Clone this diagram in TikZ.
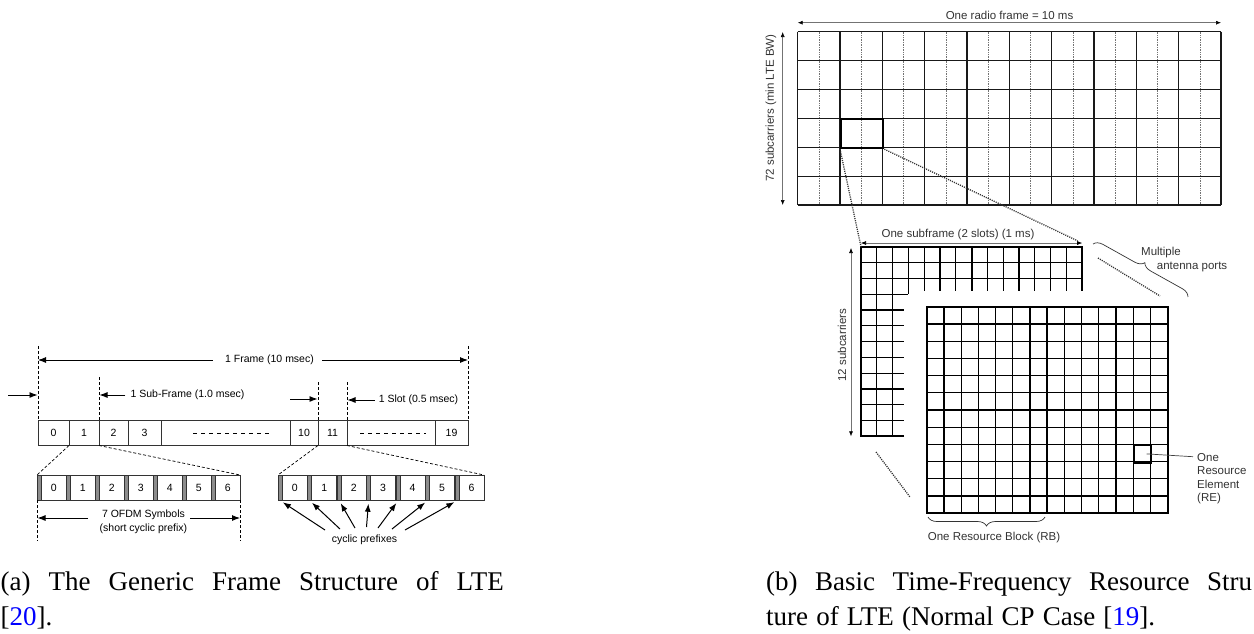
\documentclass[tikz,border=0pt]{standalone}
\usepackage{fontspec}
\setmainfont{Liberation Serif}
\setsansfont{Liberation Sans}
\usetikzlibrary{arrows.meta,decorations.pathreplacing,calc}
\begin{document}
\begin{tikzpicture}[x=1pt,y=-1pt,
  lbl/.style={font=\fontsize{10.5}{14}\selectfont\sffamily,inner sep=0pt},
  rlbl/.style={font=\fontsize{11.5}{13.5}\selectfont\sffamily,inner sep=0pt,text=black!80},
  captxt/.style={font=\fontsize{27}{32}\selectfont\rmfamily,inner sep=0pt,anchor=base west},
  vdash/.style={black,line width=0.7pt,dash pattern=on 3pt off 2pt},
  larr/.style={line width=0.9pt,-{Latex[length=8pt,width=6pt]}},
  sym/.style={draw=black!80,line width=0.7pt},
  cpbox/.style={draw=black!80,fill=black!45,line width=0.7pt,minimum width=4pt,minimum height=25pt,inner sep=0pt,anchor=north west},
  symbox/.style={draw=black!80,line width=0.7pt,minimum width=25pt,minimum height=25pt,inner sep=0pt,anchor=north west,font=\fontsize{10.5}{12}\selectfont\sffamily},
  gl/.style={line width=1.2pt,black!90},
  gd/.style={line width=0.7pt,black!55,densely dotted},
  tl/.style={line width=1.2pt,black},
  bl/.style={line width=2pt,black},
  rarr/.style={line width=0.6pt,black!55,{Latex[length=5pt,width=4pt,black]}-{Latex[length=5pt,width=4pt,black]}},
  dots/.style={line width=1.3pt,black!80,dash pattern=on 1.1pt off 1.1pt},
  brc/.style={decorate,decoration={brace,amplitude=9pt},line width=0.7pt,black!80}
]
\useasboundingbox (0,0) rectangle (1254,633);

%%%%%%%%%%%%%%%% LEFT: generic frame structure
\draw[sym] (38,420.5) rectangle (468,445.5);
\foreach \x in {69,99,128,161,290,318,347,435} \draw[sym] (\x,420.5) -- (\x,445.5);
\node[lbl] (b0) at (53.5,433) {0};
\node[lbl] (b1) at (84,433) {1};
\node[lbl] (b2) at (113.5,433) {2};
\node[lbl] (b3) at (144.5,433) {3};
\node[lbl] (b10) at (304,433) {10};
\node[lbl] (b11) at (332.5,433) {11};
\node[lbl] (b19) at (451.5,433) {19};
\coordinate (d1a) at (193,433.5); \coordinate (d1b) at (272,433.5);
\coordinate (d2a) at (360,433.5); \coordinate (d2b) at (426,433.5);
\draw[line width=0.6pt,dash pattern=on 4pt off 4pt] (d1a) -- (d1b);
\draw[line width=0.6pt,dash pattern=on 4pt off 4pt] (d2a) -- (d2b);

\draw[vdash] (38,346) -- (38,420.5);
\draw[vdash] (99,377) -- (99,420.5);
\draw[vdash] (318,382) -- (318,420.5);
\draw[vdash] (347,382) -- (347,420.5);
\draw[vdash] (468,346) -- (468,420.5);

\node[lbl] (ftx) at (269.5,360) {1 Frame (10 msec)};
\coordinate (fl) at (38,360); \coordinate (fr) at (468,360);
\draw[larr] ([xshift=-12pt]ftx.west) -- (fl);
\draw[larr] ([xshift=8pt]ftx.east) -- (fr);
\coordinate (la) at (8,395); \coordinate (lb) at (37.5,395);
\draw[larr] (la) -- (lb);
\node[lbl] (sftx) at (187.5,395) {1 Sub-Frame (1.0 msec)};
\coordinate (sfl) at (99.5,395);
\draw[larr] ([xshift=-5pt]sftx.west) -- (sfl);
\coordinate (sfa) at (290,399); \coordinate (sfb) at (317.5,399);
\draw[larr] (sfa) -- (sfb);
\node[lbl] (sltx) at (418.5,400) {1 Slot (0.5 msec)};
\coordinate (sll) at (347.5,400);
\draw[larr] ([xshift=-4pt]sltx.west) -- (sll);

\coordinate (z1) at (69,445.5); \coordinate (z2) at (37,475);
\coordinate (z3) at (99,445.5); \coordinate (z4) at (240,475);
\coordinate (z5) at (318,445.5); \coordinate (z6) at (278,475);
\coordinate (z7) at (347,445.5); \coordinate (z8) at (484,475);
\draw[vdash] (z1) -- (z2);
\draw[vdash] (z3) -- (z4);
\draw[vdash] (z5) -- (z6);
\draw[vdash] (z7) -- (z8);

\foreach \k in {0,...,6} {
  \pgfmathsetmacro\xa{37+29*\k}
  \pgfmathsetmacro\xb{278+29.43*\k}
  \node[cpbox] (cpa\k) at (\xa,475) {};
  \node[symbox] (sa\k) at (\xa+4,475) {\k};
  \node[cpbox] (cpb\k) at (\xb,475) {};
  \node[symbox] (sb\k) at (\xb+4,475) {\k};
}

\draw[vdash] (37.5,500) -- (37.5,541);
\draw[vdash] (240,500) -- (240,541);
\node[lbl,align=center] (ofdm) at (143.5,522) {7 OFDM Symbols\\(short cyclic prefix)};
\coordinate (ol) at (37.5,518); \coordinate (ola) at (88,518);
\coordinate (or) at (240,518); \coordinate (ora) at (190,518);
\draw[larr] (ola) -- (ol);
\draw[larr] (ora) -- (or);

\node[lbl] (cpt) at (364.5,540) {cyclic prefixes};
\coordinate (t0) at (325,530);
\coordinate (t1) at (340,529);
\coordinate (t2) at (355,528);
\coordinate (t3) at (366.5,527);
\coordinate (t4) at (378,528);
\coordinate (t5) at (392,529);
\coordinate (t6) at (405,530);
\foreach \k in {0,...,6} \draw[line width=1pt,-{Latex[length=8pt,width=6pt]},shorten >=3pt] (t\k) -- (cpb\k.south);

%%%%%%%%%%%%%%%% RIGHT: time-frequency grid
\foreach \i in {0,...,9} \draw[gd] ({818.9+42.33*\i},31.7) -- ++(0,173.3);
\foreach \i in {0,...,10} \draw[gl] ({797.7+42.33*\i},31.7) -- ++(0,173.3);
\foreach \j in {0,...,6} \draw[gl] (797.7,{31.7+28.88*\j}) -- (1221,{31.7+28.88*\j});
\node[draw,line width=2pt,minimum width=42.33pt,minimum height=28.88pt,inner sep=0pt,anchor=north west] (hb) at (840.03,118.34) {};

\coordinate (rfL) at (797.7,22.7); \coordinate (rfR) at (1221,22.7);
\draw[rarr] (rfL) -- (rfR);
\node[rlbl] (rft) at (1009.5,15) {One radio frame = 10 ms};
\coordinate (vT) at (782.7,32); \coordinate (vB) at (782.7,205);
\draw[rarr] (vT) -- (vB);
\node[rlbl,rotate=90] (vtx) at (771,108) {72 subcarriers (min LTE BW)};

\draw[tl] (861,262.5) -- (1082.2,262.5);
\draw[tl] (861,278.3) -- (1082.2,278.3);
\draw[tl] (861,294.1) -- (908.4,294.1);
\draw[tl] (876.8,246.7) -- (876.8,436.3);
\draw[tl] (892.6,246.7) -- (892.6,436.3);
\draw[tl] (908.4,246.7) -- (908.4,294.1);
\foreach \i in {4,5,6,8,9,10,11,12,13} \draw[tl] ({861+15.8*\i},246.7) -- ++(0,44.3);
\draw[bl] (971.6,246.7) -- (971.6,291);
\foreach \j in {4,...,11} \draw[tl] (861,{246.7+15.8*\j}) -- (904,{246.7+15.8*\j});
\draw[bl] (904,436.3) -- (861,436.3) -- (861,246.7) -- (1082.2,246.7) -- (1082.2,291);

\coordinate (sfL) at (861,243); \coordinate (sfR) at (1082.2,243);
\draw[rarr] (sfL) -- (sfR);
\node[rlbl] (sft) at (958,235) {One subframe (2 slots) (1 ms)};
\coordinate (svT) at (851,248); \coordinate (svB) at (851,436.3);
\draw[rarr] (svT) -- (svB);
\node[rlbl,rotate=90] (svx) at (842,345) {12 subcarriers};

\foreach \i in {1,...,13} \draw[tl] ({926.7+17.2*\i},306.7) -- ++(0,206.4);
\foreach \j in {1,...,11} \draw[tl] (926.7,{306.7+17.2*\j}) -- ++(240.8,0);
\draw[bl] (926.7,306.7) rectangle (1167.5,513.1);
\draw[bl] (1047.1,306.7) -- (1047.1,513.1);
\node[draw,line width=2pt,minimum width=17.2pt,minimum height=17.2pt,inner sep=0pt,anchor=north west] (re) at (1133.1,444.3) {};

\coordinate (sfTL) at (861,246.7);
\draw[dots] (hb.south west) -- (sfTL);
\draw[dots,shorten >=5pt] (hb.south east) -- (sfR);
\coordinate (ap1) at (1098,258); \coordinate (ap2) at (1160,296);
\draw[dots] (ap1) -- (ap2);
\coordinate (ap3) at (876,452); \coordinate (ap4) at (910,497);
\draw[dots] (ap3) -- (ap4);

\coordinate (brA) at (1093,244); \coordinate (brB) at (1188,297);
\draw[brc] (brA) -- (brB);
\node[rlbl,anchor=west] (mul) at (1141,253) {Multiple};
\node[rlbl,anchor=west] (ant) at (1156.7,266.7) {antenna ports};

\node[rlbl,align=left,anchor=north west] (ret) at (1197,453) {One\\Resource\\Element\\(RE)};
\coordinate (rep) at (1193,456.7);
\draw[line width=0.7pt,black!75] ([xshift=4pt]re.center) -- (rep);

\coordinate (rbA) at (1045,517); \coordinate (rbB) at (928,517);
\draw[brc] (rbA) -- (rbB);
\node[rlbl] (rbt) at (994,538) {One Resource Block (RB)};

%%%%%%%%%%%%%%%% captions
\node[captxt] (ca1) at (0.5,590) {\makebox[503pt][s]{(a) The Generic Frame Structure of LTE}};
\node[captxt] (ca2) at (0.5,625) {[\textcolor{blue}{20}].};
\node[captxt] (cb1) at (766,590) {\makebox[486pt][s]{(b) Basic Time-Frequency Resource Stru}};
\node[captxt] (cb2) at (766,625) {\makebox[389pt][s]{ture of LTE (Normal CP Case [\textcolor{blue}{19}].}};
\end{tikzpicture}
\end{document}
